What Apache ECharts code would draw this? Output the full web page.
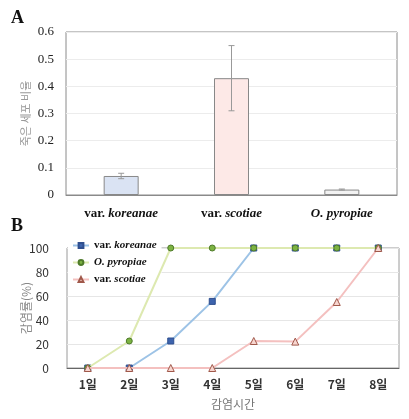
<!DOCTYPE html>
<html><head><meta charset="utf-8">
<script src="https://cdn.jsdelivr.net/npm/echarts@6/dist/echarts.min.js"></script>
<style>html,body{margin:0;padding:0;background:#fff}#c{width:409px;height:419px}</style>
</head><body><div id="c"></div>
<script>
// Panel A
const speciesA = ['var. koreanae', 'var. scotiae', 'O. pyropiae'];
const deadRatio = [0.07, 0.43, 0.02];
const errLow = [0.06, 0.31, 0.018];
const errHigh = [0.08, 0.55, 0.022];
// Panel B
const days = ['1일', '2일', '3일', '4일', '5일', '6일', '7일', '8일'];
const koreanae = [0, 0, 22.5, 55.5, 100, 100, 100, 100];
const pyropiae = [0, 22.5, 100, 100, 100, 100, 100, 100];
const scotiae = [0, 0, 0, 0, 22.5, 22, 55, 100];

const barColors = ['#dae3f3', '#fde9e7', '#f2f2f2'];
const serif = '"Liberation Serif", "DejaVu Serif", serif';
const kr = '"Noto Sans CJK KR", sans-serif';

function spLabel(v) {
  if (v.startsWith('var. ')) return '{n|var. }{i|' + v.slice(5) + '}';
  return '{i|' + v + '}';
}
function richSp(size) {
  return {
    n: { fontFamily: serif, fontWeight: 'bold', fontSize: size, color: '#111' },
    i: { fontFamily: serif, fontWeight: 'bold', fontStyle: 'italic', fontSize: size, color: '#111' }
  };
}

const chart = echarts.init(document.getElementById('c'));
chart.setOption({
  animation: false,
  backgroundColor: '#fff',
  title: [
    { text: 'A', left: 6, top: 4, textStyle: { fontFamily: serif, fontWeight: 'bold', fontSize: 18, color: '#111' } },
    { text: 'B', left: 6, top: 212, textStyle: { fontFamily: serif, fontWeight: 'bold', fontSize: 18, color: '#111' } }
  ],
  grid: [
    { left: 66, right: 12, top: 32, height: 163, show: true, borderColor: '#8a8a8a', borderWidth: 1 },
    { left: 67, right: 10, top: 248, height: 120, show: true, borderColor: '#9a9a9a', borderWidth: 1 }
  ],
  legend: {
    show: true,
    left: 68, top: 239,
    orient: 'vertical',
    backgroundColor: '#fff',
    padding: [1, 5, 1, 4],
    itemGap: 6,
    itemWidth: 16, itemHeight: 6,
    data: ['var. koreanae', 'O. pyropiae', 'var. scotiae'],
    formatter: spLabel,
    textStyle: { rich: richSp(11) }
  },
  xAxis: [
    { gridIndex: 0, type: 'category', data: speciesA,
      axisLine: { lineStyle: { color: '#8a8a8a' } }, axisTick: { show: false },
      axisLabel: { formatter: spLabel, rich: richSp(13), margin: 12, interval: 0 } },
    { gridIndex: 1, type: 'category', data: days, boundaryGap: true,
      axisLine: { lineStyle: { color: '#666' } }, axisTick: { show: false },
      axisLabel: { fontFamily: kr, fontWeight: 'bold', fontSize: 12, color: '#333', margin: 10, interval: 0 },
      name: '감염시간', nameLocation: 'middle', nameGap: 30, nameMoveOverlap: false,
      nameTextStyle: { fontFamily: kr, fontSize: 12, color: '#777' } }
  ],
  yAxis: [
    { gridIndex: 0, type: 'value', min: 0, max: 0.6, interval: 0.1,
      axisLine: { show: false }, axisTick: { show: false },
      splitLine: { lineStyle: { color: '#ececec' } },
      axisLabel: { fontFamily: serif, fontSize: 13, color: '#222', margin: 12,
        formatter: v => (Math.abs(v) < 1e-9 ? '0' : String(Math.round(v * 10) / 10)) },
      name: '죽은 세포 비율', nameLocation: 'middle', nameGap: 35, nameMoveOverlap: false,
      nameTextStyle: { fontFamily: kr, fontSize: 11, color: '#999' } },
    { gridIndex: 1, type: 'value', min: 0, max: 100, interval: 20,
      axisLine: { show: false }, axisTick: { show: false },
      splitLine: { lineStyle: { color: '#e6e6e6' } },
      axisLabel: { fontFamily: kr, fontSize: 12, color: '#333', margin: 18 },
      name: '감염률(%)', nameLocation: 'middle', nameGap: 35, nameMoveOverlap: false,
      nameTextStyle: { fontFamily: kr, fontSize: 12, color: '#888' } }
  ],
  series: [
    { type: 'bar', xAxisIndex: 0, yAxisIndex: 0, barWidth: 35,
      data: deadRatio.map((v, i) => ({ value: v, itemStyle: { color: barColors[i], borderColor: '#888', borderWidth: 1 } })) },
    { type: 'custom', xAxisIndex: 0, yAxisIndex: 0,
      data: speciesA.map((s, i) => [i, errLow[i], errHigh[i]]),
      renderItem: function (params, api) {
        const x = api.coord([api.value(0), api.value(1)])[0];
        const yl = api.coord([api.value(0), api.value(1)])[1];
        const yh = api.coord([api.value(0), api.value(2)])[1];
        const st = { stroke: '#999', lineWidth: 1 };
        return { type: 'group', children: [
          { type: 'line', shape: { x1: x, y1: yl, x2: x, y2: yh }, style: st },
          { type: 'line', shape: { x1: x - 3, y1: yl, x2: x + 3, y2: yl }, style: st },
          { type: 'line', shape: { x1: x - 3, y1: yh, x2: x + 3, y2: yh }, style: st }
        ] };
      }, z: 5 },
    { name: 'var. koreanae', type: 'line', xAxisIndex: 1, yAxisIndex: 1, data: koreanae,
      symbol: 'rect', symbolSize: 6, lineStyle: { color: '#9dc3e6', width: 2 },
      itemStyle: { color: '#3d63ad', borderColor: '#2f4f8f', borderWidth: 1 }, z: 3 },
    { name: 'O. pyropiae', type: 'line', xAxisIndex: 1, yAxisIndex: 1, data: pyropiae,
      symbol: 'circle', symbolSize: 6, lineStyle: { color: '#dde9b0', width: 2 },
      itemStyle: { color: '#7cb342', borderColor: '#4e7a2a', borderWidth: 1 }, z: 4 },
    { name: 'var. scotiae', type: 'line', xAxisIndex: 1, yAxisIndex: 1, data: scotiae,
      symbol: 'triangle', symbolSize: 7, lineStyle: { color: '#f4c0bf', width: 2 },
      itemStyle: { color: '#f7d5cf', borderColor: '#a0584a', borderWidth: 1 }, z: 5 }
  ]
});
</script></body></html>
